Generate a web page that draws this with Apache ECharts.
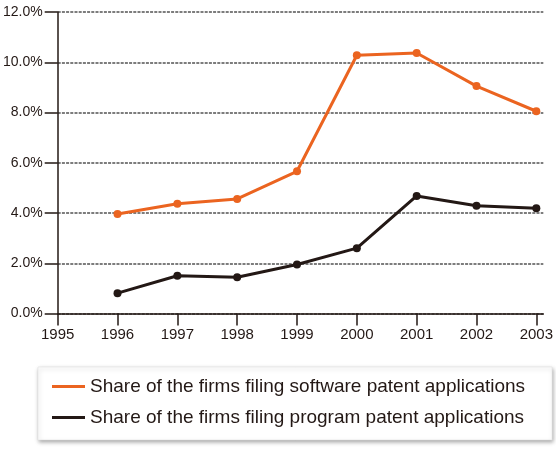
<!DOCTYPE html>
<html>
<head>
<meta charset="utf-8">
<script src="https://cdn.jsdelivr.net/npm/echarts@6/dist/echarts.min.js"></script>
<style>
html,body{margin:0;padding:0;background:#fff;}
#chart{width:556px;height:450px;}
</style>
</head>
<body>
<div id="chart"></div>
<script>
const years = [1996, 1997, 1998, 1999, 2000, 2001, 2002, 2003];
const xTickLabels = [1995, 1996, 1997, 1998, 1999, 2000, 2001, 2002, 2003];
const softwareShare = [3.96, 4.37, 4.56, 5.66, 10.28, 10.37, 9.05, 8.05];
const programShare = [0.81, 1.50, 1.44, 1.95, 2.60, 4.68, 4.29, 4.19];
const seriesNames = [
  'Share of the firms filing software patent applications',
  'Share of the firms filing program patent applications'
];

const FONT = '"Liberation Sans", Arial, sans-serif';
const INK = '#231815';
const ORANGE = '#EB6420';

const chart = echarts.init(document.getElementById('chart'), null, {renderer: 'canvas'});
chart.setOption({
  animation: false,
  backgroundColor: '#ffffff',
  grid: {left: 57, top: 12, right: 12, bottom: 136.5, containLabel: false},
  xAxis: {
    type: 'value',
    min: 1995,
    max: 2003.117,
    interval: 1,
    axisLine: {show: true, lineStyle: {color: INK, width: 1.5}},
    axisTick: {show: true, length: 12, inside: false, customValues: xTickLabels, lineStyle: {color: INK, width: 1.5}},
    axisLabel: {
      customValues: xTickLabels,
      margin: 14,
      color: INK,
      fontFamily: FONT,
      fontSize: 15,
      formatter: v => String(Math.round(v))
    },
    splitLine: {show: false}
  },
  yAxis: {
    type: 'value',
    min: 0,
    max: 12,
    interval: 2,
    axisLine: {show: true, lineStyle: {color: INK, width: 1.5}},
    axisTick: {show: true, length: 13, inside: false, lineStyle: {color: INK, width: 1.5}},
    axisLabel: {
      margin: 15,
      color: INK,
      fontFamily: FONT,
      fontSize: 14,
      formatter: v => v.toFixed(1) + '%'
    },
    splitLine: {show: true, lineStyle: {color: '#7d7d7d', width: 2, type: [3, 1.2]}}
  },
  legend: {
    show: true,
    orient: 'vertical',
    left: 38,
    top: 367,
    padding: [10, 27, 13, 14],
    itemGap: 12,
    itemWidth: 33,
    itemHeight: 3,
    icon: 'rect',
    backgroundColor: '#ffffff',
    borderColor: '#dddddd',
    borderWidth: 0.5,
    shadowBlur: 4,
    shadowColor: 'rgba(0,0,0,0.35)',
    shadowOffsetX: 1,
    shadowOffsetY: 2,
    textStyle: {color: INK, fontFamily: FONT, fontSize: 19},
    data: seriesNames
  },
  series: [
    {
      name: seriesNames[0],
      type: 'line',
      data: years.map((y, i) => [y, softwareShare[i]]),
      symbol: 'circle',
      symbolSize: 8,
      lineStyle: {color: ORANGE, width: 3},
      itemStyle: {color: ORANGE},
      z: 3
    },
    {
      name: seriesNames[1],
      type: 'line',
      data: years.map((y, i) => [y, programShare[i]]),
      symbol: 'circle',
      symbolSize: 8,
      lineStyle: {color: INK, width: 3},
      itemStyle: {color: INK},
      z: 3
    }
  ]
});
</script>
</body>
</html>
